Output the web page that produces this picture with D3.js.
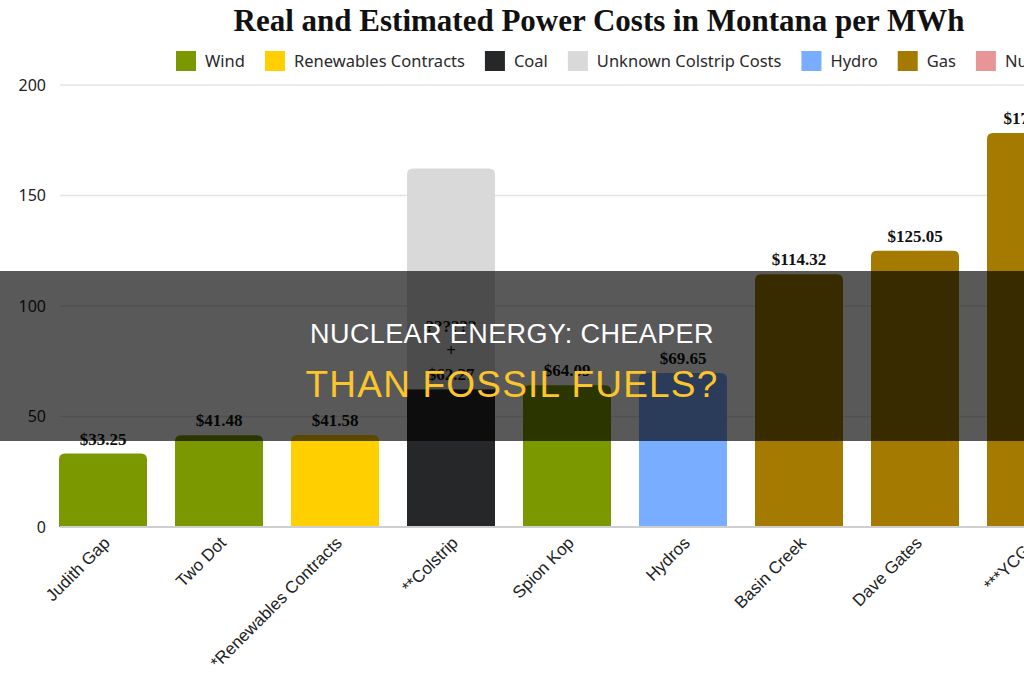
<!DOCTYPE html>
<html>
<head>
<meta charset="utf-8">
<script src="https://cdn.jsdelivr.net/npm/d3@7"></script>
<style>
  html, body { margin: 0; padding: 0; background: #fff; overflow: hidden; }
  svg { display: block; }
</style>
</head>
<body>
<div id="chart"></div>
<script>
// bar categories and their values (per MWh)
const categories = ["Judith Gap", "Two Dot", "*Renewables Contracts", "**Colstrip", "Spion Kop",
                    "Hydros", "Basin Creek", "Dave Gates", "***YCGS"];
const sources    = ["Wind", "Wind", "Renewables Contracts", "Coal", "Wind",
                    "Hydro", "Gas", "Gas", "Gas"];
const knownCosts   = [33.25, 41.48, 41.58, 62.27, 64.09, 69.65, 114.32, 125.05, 178.3];
const unknownCosts = [0, 0, 0, 100, 0, 0, 0, 0, 0];
const valueLabels  = [["$33.25"], ["$41.48"], ["$41.58"], ["??????", "+", "$62.27"], ["$64.09"],
                      ["$69.65"], ["$114.32"], ["$125.05"], ["$178.30"]];

// legend entries
const legendNames  = ["Wind", "Renewables Contracts", "Coal", "Unknown Colstrip Costs", "Hydro", "Gas", "Nuclear"];
const legendColors = ["#7b9800", "#ffcf00", "#262729", "#d9d9d9", "#79adff", "#a47b00", "#e89597"];

const yTicks = [0, 50, 100, 150, 200];

// formatting parameters
const width = 1024;
const height = 680;
const sansFont = "'Noto Sans', 'Liberation Sans', sans-serif";
const labelFont = "'Liberation Sans', Arial, sans-serif";
const serifFont = "'Liberation Serif', 'DejaVu Serif', serif";

const svg = d3.select("#chart")
    .append("svg")
    .attr("width", width)
    .attr("height", height);

const color = d3.scaleOrdinal().domain(legendNames).range(legendColors);

// scales
const x = d3.scaleBand()
    .domain(categories)
    .range([45, 45 + 116 * categories.length])
    .paddingInner(0.2414)
    .paddingOuter(0.1207);

const y = d3.scaleLinear().domain([0, 200]).range([527, 85]);

// title
svg.append("text")
    .attr("x", 599)
    .attr("y", 31)
    .attr("text-anchor", "middle")
    .style("font-family", serifFont)
    .style("font-weight", "bold")
    .style("font-size", "31px")
    .style("fill", "#111")
    .text("Real and Estimated Power Costs in Montana per MWh");

// legend, laid out left to right
const legend = svg.append("g").attr("transform", "translate(176,51)");
let lx = 0;
legendNames.forEach((name, i) => {
    legend.append("rect")
        .attr("x", lx).attr("y", 0)
        .attr("width", 20).attr("height", 20)
        .attr("fill", legendColors[i]);
    const t = legend.append("text")
        .attr("x", lx + 29).attr("y", 16)
        .style("font-family", sansFont)
        .style("font-size", "16.5px")
        .style("fill", "#2a2a2a")
        .text(name);
    lx += 29 + t.node().getComputedTextLength() + 20;
});

// grid lines and y labels
const yAxis = d3.axisLeft(y)
    .tickValues(yTicks)
    .tickSize(0)
    .tickPadding(0);

svg.append("g")
    .selectAll("line")
    .data(yTicks)
    .enter()
    .append("line")
    .attr("x1", 60).attr("x2", width)
    .attr("y1", d => y(d)).attr("y2", d => y(d))
    .attr("stroke", d => d === 0 ? "#cfcfcf" : "#e4e4e4")
    .attr("stroke-width", d => d === 0 ? 2 : 1.5);

const yg = svg.append("g")
    .attr("transform", "translate(46,0)")
    .call(yAxis);
yg.select(".domain").remove();
yg.selectAll("text")
    .style("font-family", sansFont)
    .style("font-size", "16px")
    .style("fill", "#222");

// path for a bar with rounded top corners
function roundTop(x0, y0, w, h, r) {
    r = Math.min(r, h);
    return `M${x0},${y0 + h}V${y0 + r}Q${x0},${y0} ${x0 + r},${y0}H${x0 + w - r}Q${x0 + w},${y0} ${x0 + w},${y0 + r}V${y0 + h}Z`;
}

const bars = svg.append("g");
categories.forEach((c, i) => {
    const bx = x(c);
    const bw = x.bandwidth();
    const known = knownCosts[i];
    const unknown = unknownCosts[i];
    if (unknown > 0) {
        // stacked: coal at the bottom, unknown costs on top
        bars.append("path")
            .attr("d", roundTop(bx, y(known + unknown), bw, y(known) - y(known + unknown), 6))
            .attr("fill", color("Unknown Colstrip Costs"));
        bars.append("rect")
            .attr("x", bx).attr("y", y(known))
            .attr("width", bw).attr("height", y(0) - y(known))
            .attr("fill", color(sources[i]));
    } else {
        bars.append("path")
            .attr("d", roundTop(bx, y(known), bw, y(0) - y(known), 6))
            .attr("fill", color(sources[i]));
    }

    // value labels, stacked upward from the known cost
    const lines = valueLabels[i];
    lines.forEach((txt, j) => {
        bars.append("text")
            .attr("x", bx + bw / 2)
            .attr("y", y(known) - 9 - (lines.length - 1 - j) * 24)
            .attr("text-anchor", "middle")
            .style("font-family", serifFont)
            .style("font-weight", "bold")
            .style("font-size", "17px")
            .style("fill", "#111")
            .text(txt);
    });
});

// baseline drawn over bars
svg.append("line")
    .attr("x1", 60).attr("x2", width)
    .attr("y1", y(0)).attr("y2", y(0))
    .attr("stroke", "#cfcfcf")
    .attr("stroke-width", 2);

// rotated category labels
svg.append("g")
    .selectAll("text")
    .data(categories)
    .enter()
    .append("text")
    .attr("transform", d => `translate(${x(d) + x.bandwidth() / 2 + 8},544) rotate(-45)`)
    .attr("text-anchor", "end")
    .style("font-family", labelFont)
    .style("font-size", "17px")
    .style("fill", "#222")
    .text(d => d);

// dark headline band over the chart
svg.append("rect")
    .attr("x", 0).attr("y", 271)
    .attr("width", width).attr("height", 170)
    .attr("fill", "rgba(0,0,0,0.65)");

svg.append("text")
    .attr("x", 512).attr("y", 343)
    .attr("text-anchor", "middle")
    .style("font-family", "'Liberation Sans', Arial, sans-serif")
    .style("font-size", "27px")
    .style("letter-spacing", "0.4px")
    .style("fill", "#ffffff")
    .text("NUCLEAR ENERGY: CHEAPER");

svg.append("text")
    .attr("x", 512).attr("y", 397)
    .attr("text-anchor", "middle")
    .style("font-family", "'Liberation Sans', Arial, sans-serif")
    .style("font-size", "37px")
    .style("letter-spacing", "1.2px")
    .style("fill", "#fcc52b")
    .text("THAN FOSSIL FUELS?");
</script>
</body>
</html>
